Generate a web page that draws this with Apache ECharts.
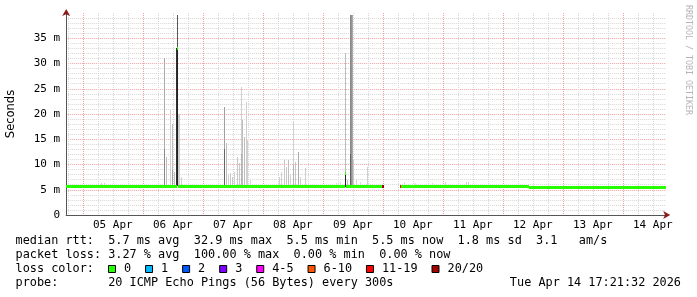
<!DOCTYPE html>
<html><head><meta charset="utf-8">
<script src="https://cdn.jsdelivr.net/npm/echarts@6/dist/echarts.min.js"></script>
<style>html,body{margin:0;padding:0;background:#fff}#c{width:697px;height:297px}</style>
</head><body><div id="c"></div>
<script>
// ---- time scale: hours relative to 05 Apr 00:00 ----
const X_MIN = -6.642;   // 04 Apr 17:21:32
const X_MAX = 233.358;  // 14 Apr 17:21:32
const dayLabels = ['05 Apr','06 Apr','07 Apr','08 Apr','09 Apr','10 Apr','11 Apr','12 Apr','13 Apr','14 Apr'];

// ---- value scale: milliseconds ----
const Y_MAX = 40;
const yTickValues = [0, 5, 10, 15, 20, 25, 30, 35];
const yTickLabels = ['0', '5 m', '10 m', '15 m', '20 m', '25 m', '30 m', '35 m'];

// ---- loss classes ----
const lossLabels = ['0', '1', '2', '3', '4-5', '6-10', '11-19', '20/20'];
const lossColors = ['#26ff00', '#00b8ff', '#0059ff', '#7e00ff', '#ff00ff', '#ff5500', '#ff0000', '#a10000'];

// ---- median rtt: [start hour, end hour, ms, loss class] ----
const medianSegments = [
  [-6.642, 37.5, 5.7, 0],
  [37.5, 37.9, 32.9, 0],
  [37.9, 104.7, 5.7, 0],
  [104.7, 105.1, 8.3, 0],
  [105.1, 119.56, 5.7, 0],
  [119.56, 120.36, 5.7, 7],
  [126.9, 127.4, 5.7, 6],
  [127.4, 178.5, 5.7, 0],
  [178.5, 233.358, 5.5, 0]
];

// ---- smoke (ping spread): [hour, low ms, high ms, density 0..1] ----
const SMOKE_STEP = 0.4;
const smokeSamples = [
  [7.3, 5.7, 6.4, 0.2], [8.5, 5.7, 6.3, 0.2], [10.9, 5.7, 6.2, 0.15],
  [32.6, 5.7, 31.0, 0.4], [32.6, 5.7, 13.0, 0.55], [33.3, 5.7, 11.5, 0.3],
  [34.9, 5.7, 20.8, 0.2], [35.6, 5.7, 18.0, 0.3], [35.6, 5.7, 9.0, 0.45],
  [36.5, 5.7, 8.5, 0.3], [37.3, 5.7, 33.0, 0.9], [37.7, 5.7, 39.6, 0.75],
  [37.7, 5.7, 33.0, 0.95], [38.1, 5.7, 20.0, 0.2], [38.5, 5.7, 20.0, 0.2],
  [39.3, 5.7, 7.5, 0.2],
  [56.6, 5.7, 21.4, 0.45], [56.6, 5.7, 13.0, 0.7], [57.3, 5.7, 14.2, 0.3],
  [58.1, 5.7, 8.0, 0.2], [58.9, 5.7, 8.3, 0.25], [59.8, 5.7, 7.6, 0.25],
  [60.5, 5.7, 8.5, 0.2], [61.8, 5.7, 11.5, 0.25], [62.6, 5.7, 10.3, 0.25],
  [63.2, 5.7, 25.4, 0.2], [63.2, 5.7, 12.0, 0.35], [63.7, 5.7, 18.8, 0.3],
  [64.3, 5.7, 15.5, 0.3], [65.2, 5.7, 22.4, 0.2], [65.8, 5.7, 14.8, 0.2],
  [66.9, 5.7, 7.0, 0.15],
  [78.5, 5.7, 7.5, 0.2], [79.3, 5.7, 8.5, 0.2], [80.4, 5.7, 10.9, 0.25],
  [81.1, 5.7, 9.5, 0.25], [82.1, 5.7, 10.9, 0.3], [82.9, 5.7, 8.0, 0.2],
  [84.2, 5.7, 18.4, 0.2], [84.2, 5.7, 10.0, 0.35], [84.9, 5.7, 10.5, 0.25],
  [85.9, 5.7, 12.5, 0.4], [86.9, 5.7, 7.5, 0.2], [88.9, 5.7, 9.3, 0.2],
  [101.3, 5.7, 6.3, 0.15], [102.9, 5.7, 6.5, 0.15],
  [104.9, 5.7, 32.0, 0.3], [104.9, 5.5, 8.3, 0.95], [105.7, 5.7, 7.0, 0.3],
  [106.9, 5.7, 39.6, 0.55], [106.9, 5.7, 12.0, 0.7], [107.3, 5.7, 39.6, 0.5],
  [107.7, 5.7, 39.6, 0.4], [108.1, 5.7, 10.9, 0.25], [109.3, 5.7, 7.0, 0.2],
  [110.9, 5.7, 6.5, 0.15], [113.6, 5.7, 9.5, 0.2], [115.7, 5.7, 6.2, 0.15],
  [128.5, 5.7, 6.6, 0.15], [132.9, 5.7, 6.4, 0.15], [139.7, 5.7, 6.3, 0.15],
  [144.9, 5.7, 6.5, 0.15], [153.3, 5.7, 6.6, 0.2], [154.1, 5.7, 6.5, 0.2]
];

// ---- legend texts ----
const rttStats  = 'median rtt:  5.7 ms avg  32.9 ms max  5.5 ms min  5.5 ms now  1.8 ms sd  3.1   am/s';
const lossStats = 'packet loss: 3.27 % avg  100.00 % max  0.00 % min  0.00 % now';
const lossTitle = 'loss color:';
const probeText = 'probe:       20 ICMP Echo Pings (56 Bytes) every 300s';
const dateText  = 'Tue Apr 14 17:21:32 2026';
const watermark = 'RRDTOOL / TOBI OETIKER';
const yTitle = 'Seconds';

// ---- build ----
const MONO = "'DejaVu Sans Mono', monospace";
const minorX = [], majorX = [];
for (let h = Math.ceil(X_MIN / 6) * 6; h <= X_MAX; h += 6) (h % 24 === 0 ? majorX : minorX).push(h);
const labelX = dayLabels.map((_, i) => i * 24 + 12);
const minorY = [];
for (let v = 1; v < Y_MAX; v++) if (v % 5) minorY.push(v);
const majorY = yTickValues.filter(v => v > 0);

const smokeSorted = smokeSamples.slice().sort((a, b) => a[3] - b[3]);

function grayOf(d) { const g = Math.round(235 - 215 * Math.pow(d, 1.3)); return 'rgb(' + g + ',' + g + ',' + g + ')'; }

const chart = echarts.init(document.getElementById('c'), null, { renderer: 'canvas', width: 697, height: 297 });

const CW = 7.12, LX = 15.5, FONT = '11.85px ' + MONO;
const graphics = [];
function txt(s, x, y) {
  graphics.push({ type: 'text', x: x, y: y, silent: true,
    style: { text: s, font: FONT, fill: '#000', textAlign: 'left', textVerticalAlign: 'middle' } });
}
txt(rttStats, LX, 241);
txt(lossStats, LX, 255);
txt(lossTitle, LX, 269);
txt(probeText, LX, 283);
graphics.push({ type: 'text', x: 681, y: 283, silent: true,
  style: { text: dateText, font: FONT, fill: '#000', textAlign: 'right', textVerticalAlign: 'middle' } });
let bx = 108.5;
lossLabels.forEach((lab, i) => {
  graphics.push({ type: 'rect', silent: true, shape: { x: bx, y: 265.5, width: 7, height: 7 },
    style: { fill: lossColors[i], stroke: '#000', lineWidth: 1 } });
  txt(lab, bx + 15.5, 269);
  bx += 15.7 + (lab.length + 2) * CW;
});
graphics.push({ type: 'text', x: 688, y: 60, rotation: -Math.PI / 2, silent: true,
  style: { text: watermark, font: '8.3px ' + MONO, fill: '#b4b4b4', textAlign: 'center', textVerticalAlign: 'middle' } });

const minorLine = { color: '#d6d6d6', width: 1, type: [1, 1] };
const majorLine = { color: '#eea0a0', width: 1, type: [1, 1] };
const arrowLine = { show: true, onZero: false, lineStyle: { color: '#8b1a1a', width: 0 },
                    symbol: ['none', 'arrow'], symbolSize: [6, 7], symbolOffset: [0, 4] };

const option = {
  animation: false,
  backgroundColor: '#ffffff',
  grid: { left: 66.2, top: 13, width: 600, height: 202, containLabel: false, outerBoundsMode: 'none' },
  xAxis: [
    { type: 'value', min: X_MIN, max: X_MAX, position: 'bottom',
      axisLine: arrowLine, axisTick: { show: false, customValues: minorX }, axisLabel: { show: false },
      splitLine: { show: true, lineStyle: minorLine } },
    { type: 'value', min: X_MIN, max: X_MAX, position: 'bottom',
      axisLine: { show: true, onZero: false, lineStyle: { color: '#555', width: 1 } },
      axisTick: { show: false, customValues: majorX },
      axisLabel: { show: true, customValues: labelX, margin: 5, fontFamily: MONO, fontSize: 11, color: '#000',
                   formatter: v => dayLabels[Math.round((v - 12) / 24)] },
      splitLine: { show: true, lineStyle: majorLine } }
  ],
  yAxis: [
    { type: 'value', min: 0, max: Y_MAX, position: 'left',
      axisLine: arrowLine, axisTick: { show: false, customValues: minorY }, axisLabel: { show: false },
      splitLine: { show: true, lineStyle: minorLine } },
    { type: 'value', min: 0, max: Y_MAX, position: 'left',
      axisLine: { show: true, onZero: false, lineStyle: { color: '#555', width: 1 } },
      axisTick: { show: false, customValues: majorY },
      axisLabel: { show: true, customValues: yTickValues, margin: 6, fontFamily: MONO, fontSize: 11, color: '#000',
                   formatter: v => yTickLabels[yTickValues.indexOf(v)] },
      splitLine: { show: true, lineStyle: majorLine },
      name: yTitle, nameLocation: 'middle', nameRotate: 90, nameGap: 49,
      nameTextStyle: { fontFamily: "'DejaVu Sans', sans-serif", fontSize: 11.5, color: '#000' } }
  ],
  series: [
    { type: 'custom', name: 'smoke', xAxisIndex: 0, yAxisIndex: 0, clip: true,
      data: smokeSorted, encode: { x: 0, y: [1, 2] },
      renderItem: (params, api) => {
        const t = api.value(0), lo = api.value(1), hi = api.value(2), d = api.value(3);
        const p0 = api.coord([t, hi]), p1 = api.coord([t + SMOKE_STEP, lo]);
        const x0 = Math.round(p0[0]), x1 = Math.max(x0 + 1, Math.round(p1[0]));
        return { type: 'rect', shape: { x: x0, y: Math.round(p0[1]), width: x1 - x0, height: Math.round(p1[1]) - Math.round(p0[1]) },
                 style: { fill: grayOf(d) } };
      } },
    { type: 'custom', name: 'median', xAxisIndex: 0, yAxisIndex: 0, clip: true,
      data: medianSegments, encode: { x: [0, 1], y: 2 },
      renderItem: (params, api) => {
        const s = api.value(0), e = api.value(1), v = api.value(2), l = api.value(3);
        const p0 = api.coord([s, v]), p1 = api.coord([e, v]);
        const x0 = Math.round(p0[0]), x1 = Math.max(x0 + 1, Math.round(p1[0]));
        return { type: 'rect', shape: { x: x0, y: Math.round(p0[1] - 1.5), width: x1 - x0, height: 3 },
                 style: { fill: lossColors[l] } };
      } }
  ],
  graphic: graphics
};
chart.setOption(option);
</script></body></html>
